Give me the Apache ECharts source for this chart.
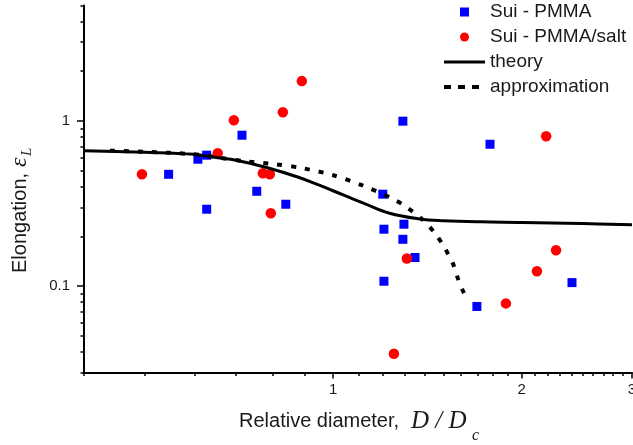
<!DOCTYPE html>
<html><head><meta charset="utf-8">
<script src="https://cdn.jsdelivr.net/npm/echarts@6/dist/echarts.min.js"></script>
<style>html,body{margin:0;padding:0;background:#fff}#c{width:633px;height:445px}</style>
</head><body><div id="c"></div>
<script>
// Sui - PMMA (blue squares)
const pmmaX = [0.546, 0.608, 0.628, 0.715, 0.755, 0.628, 0.840, 1.292, 1.780, 1.200, 1.205, 1.297, 1.292, 1.351, 1.205, 1.696, 2.406];
const pmmaY = [0.475, 0.586, 0.620, 0.819, 0.375, 0.292, 0.313, 0.996, 0.722, 0.360, 0.221, 0.237, 0.192, 0.149, 0.107, 0.0753, 0.105];
// Sui - PMMA/salt (red circles)
const saltX = [0.495, 0.654, 0.694, 0.831, 0.891, 0.772, 0.792, 0.795, 2.188, 1.311, 1.250, 1.887, 2.115, 2.269];
const saltY = [0.475, 0.637, 1.01, 1.129, 1.741, 0.482, 0.475, 0.276, 0.808, 0.147, 0.039, 0.0786, 0.123, 0.165];
// theory (solid)
const theoryX = [0.4, 0.5, 0.6, 0.65, 0.7, 0.78, 0.88, 0.95, 1.04, 1.12, 1.23, 1.375, 1.5, 1.72, 2.0, 2.5, 3.0];
const theoryY = [0.660, 0.646, 0.628, 0.600, 0.578, 0.524, 0.456, 0.408, 0.355, 0.317, 0.276, 0.255, 0.249, 0.245, 0.243, 0.239, 0.235];
// approximation (dotted)
const approxX = [0.44, 0.5, 0.6, 0.654, 0.722, 0.807, 0.894, 1.0, 1.111, 1.241, 1.311, 1.386, 1.454, 1.508, 1.553, 1.582, 1.618, 1.636];
const approxY = [0.660, 0.650, 0.628, 0.600, 0.570, 0.547, 0.517, 0.469, 0.408, 0.340, 0.300, 0.254, 0.209, 0.169, 0.137, 0.111, 0.0903, 0.0842];
// ticks
const xMajorTicks = [1, 2, 3];
const xMinorTicks = [0.4, 0.5, 0.6, 0.7, 0.8, 0.9, 1.1, 1.2, 1.3, 1.4, 1.5, 1.6, 1.7, 1.8, 1.9, 2.1, 2.2, 2.3, 2.4, 2.5, 2.6, 2.7, 2.8, 2.9];
const yMajorTicks = [0.1, 1];
const yMinorTicks = [0.03, 0.04, 0.05, 0.06, 0.07, 0.08, 0.09, 0.2, 0.3, 0.4, 0.5, 0.6, 0.7, 0.8, 0.9, 2, 3, 4, 5];
const seriesNames = ['Sui - PMMA', 'Sui - PMMA/salt', 'theory', 'approximation'];

const zip = (xs, ys) => xs.map((x, i) => [x, ys[i]]);
const SANS = '"Liberation Sans", Arial, sans-serif';
const SERIF = '"Liberation Serif", "Times New Roman", serif';
const TXT = '#1a1a1a';

const axisCommon = {
  splitLine: { show: false }, minorTick: { show: false }, minorSplitLine: { show: false }
};

const chart = echarts.init(document.getElementById('c'), null, { renderer: 'canvas' });
chart.setOption({
  animation: false,
  backgroundColor: '#fff',
  grid: { left: 84, right: 1, top: 5.4, bottom: 72.5, containLabel: false, outerBoundsMode: 'none' },
  legend: {
    data: [
      { name: seriesNames[0], icon: 'path://M0,0L10,0L10,10L0,10Z' },
      { name: seriesNames[1], icon: 'circle' },
      { name: seriesNames[2], itemStyle: { opacity: 0 }, lineStyle: { width: 3, color: '#000' } },
      { name: seriesNames[3], itemStyle: { opacity: 0 }, lineStyle: { width: 4, color: '#000', type: [7, 7] } }
    ],
    orient: 'vertical', left: 442, top: 2.5, padding: 0, symbolKeepAspect: true,
    itemWidth: 41, itemHeight: 9, itemGap: 6, selectedMode: false,
    textStyle: { fontSize: 19, color: TXT, fontFamily: SANS }
  },
  xAxis: [
    Object.assign({
      type: 'log', logBase: 10, min: 0.4, max: 3, position: 'bottom',
      axisLine: { show: true, lineStyle: { color: '#000', width: 2 } },
      axisTick: { show: true, customValues: xMajorTicks, length: 6, lineStyle: { color: '#000', width: 1.5 } },
      axisLabel: { customValues: xMajorTicks, margin: 10, fontSize: 15, color: TXT, fontFamily: SANS }
    }, axisCommon),
    Object.assign({
      type: 'log', logBase: 10, min: 0.4, max: 3, position: 'bottom',
      axisLine: { show: false },
      axisTick: { show: true, customValues: xMinorTicks, length: 3.5, lineStyle: { color: '#000', width: 1.5 } },
      axisLabel: { show: false }
    }, axisCommon)
  ],
  yAxis: [
    Object.assign({
      type: 'log', logBase: 10, min: 0.03, max: 5, position: 'left',
      axisLine: { show: true, lineStyle: { color: '#000', width: 2 } },
      axisTick: { show: true, customValues: yMajorTicks, length: 7, lineStyle: { color: '#000', width: 1.5 } },
      axisLabel: { customValues: yMajorTicks, margin: 14, fontSize: 15, color: TXT, fontFamily: SANS }
    }, axisCommon),
    Object.assign({
      type: 'log', logBase: 10, min: 0.03, max: 5, position: 'left',
      axisLine: { show: false },
      axisTick: { show: true, customValues: yMinorTicks, length: 3.5, lineStyle: { color: '#000', width: 1.5 } },
      axisLabel: { show: false }
    }, axisCommon)
  ],
  series: [
    { name: seriesNames[0], type: 'scatter', symbol: 'rect', symbolSize: 9,
      itemStyle: { color: '#0000ff', opacity: 1 }, data: zip(pmmaX, pmmaY) },
    { name: seriesNames[1], type: 'scatter', symbol: 'circle', symbolSize: 10.5,
      itemStyle: { color: '#ff0000', opacity: 1 }, data: zip(saltX, saltY) },
    { name: seriesNames[2], type: 'line', symbol: 'none', smooth: 0.4,
      lineStyle: { color: '#000', width: 3 }, itemStyle: { color: '#000' }, data: zip(theoryX, theoryY) },
    { name: seriesNames[3], type: 'line', symbol: 'none', smooth: 0.3,
      lineStyle: { color: '#000', width: 4, type: [5, 9] }, itemStyle: { color: '#000' }, data: zip(approxX, approxY) }
  ],
  graphic: [
    { type: 'text', x: 239, y: 421.8, style: { text: 'Relative diameter, ', font: '20px ' + SANS, fill: TXT, align: 'left', verticalAlign: 'middle' } },
    { type: 'text', x: 411, y: 421, style: { text: 'D / D', font: 'italic 25px ' + SERIF, fill: TXT, align: 'left', verticalAlign: 'middle' } },
    { type: 'text', x: 472, y: 435.7, style: { text: 'c', font: 'italic 16px ' + SERIF, fill: TXT, align: 'left', verticalAlign: 'middle' } },
    { type: 'group', x: 28, y: 273, rotation: Math.PI / 2, children: [
      { type: 'text', x: 0, y: -7.2, style: { text: 'Elongation, ', font: '20px ' + SANS, fill: TXT, align: 'left', verticalAlign: 'middle' } },
      { type: 'text', x: 106, y: -8.5, style: { text: 'ε', font: 'italic 24px ' + SERIF, fill: TXT, align: 'left', verticalAlign: 'middle' } },
      { type: 'text', x: 117, y: -1.4, style: { text: 'L', font: 'italic 15px ' + SERIF, fill: TXT, align: 'left', verticalAlign: 'middle' } }
    ] }
  ]
});
</script>
</body></html>
